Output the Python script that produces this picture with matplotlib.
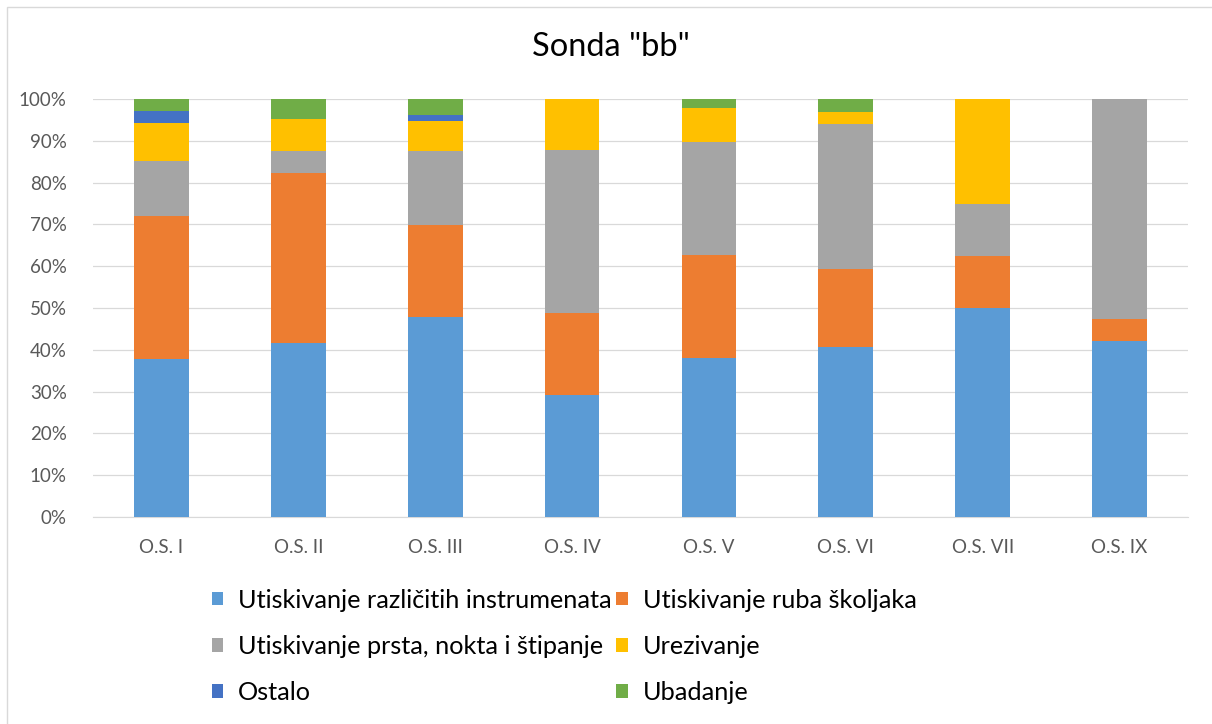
import numpy as np
import matplotlib
matplotlib.use("Agg")
import matplotlib.pyplot as plt
from matplotlib.patches import Rectangle, Patch
from matplotlib.ticker import PercentFormatter

categories = ["O.S. I", "O.S. II", "O.S. III", "O.S. IV", "O.S. V", "O.S. VI", "O.S. VII", "O.S. IX"]

# shares in % per category
instrumenti = [37.7, 41.6, 47.8, 29.3, 38.1, 40.6, 50.0, 42.1]
skoljke     = [34.4, 40.6, 22.0, 19.4, 24.5, 18.8, 12.5, 5.3]
prsti       = [13.1, 5.3, 17.7, 39.1, 27.0, 34.5, 12.5, 52.6]
urezivanje  = [9.0, 7.7, 7.2, 12.2, 8.2, 3.1, 25.0, 0.0]
ostalo      = [2.9, 0.0, 1.5, 0.0, 0.0, 0.0, 0.0, 0.0]
ubadanje    = [2.9, 4.8, 3.8, 0.0, 2.2, 3.0, 0.0, 0.0]

names = ["Utiskivanje različitih instrumenata", "Utiskivanje ruba školjaka",
         "Utiskivanje prsta, nokta i štipanje", "Urezivanje", "Ostalo", "Ubadanje"]
series = [instrumenti, skoljke, prsti, urezivanje, ostalo, ubadanje]
colors = ["#5B9BD5", "#ED7D31", "#A5A5A5", "#FFC000", "#4472C4", "#70AD47"]

plt.rcParams['font.family'] = ['Lato', 'DejaVu Sans']

fig = plt.figure(figsize=(12.12, 7.24), dpi=100)
ax = fig.add_axes([93/1212, 1 - 517/724, (1188-93)/1212, (517-99)/724])

x = np.arange(len(categories))
bottom = np.zeros(len(categories))
for vals, c in zip(series, colors):
    ax.bar(x, vals, width=0.4, bottom=bottom, color=c, zorder=3)
    bottom += np.array(vals)

ax.set_xlim(-0.5, len(categories) - 0.5)
ax.set_ylim(0, 100)
ax.set_yticks(np.arange(0, 101, 10))
ax.yaxis.set_major_formatter(PercentFormatter(decimals=0))
ax.set_xticks(x)
ax.set_xticklabels(categories)
ax.tick_params(length=0, labelsize=13.5, colors="#595959")
ax.tick_params(axis='x', pad=16)
ax.tick_params(axis='y', pad=19)
ax.grid(axis='y', color="#D9D9D9", lw=0.9, zorder=0)
for s in ["top", "right", "left"]:
    ax.spines[s].set_visible(False)
ax.spines["bottom"].set_color("#D9D9D9")

fig.text(611/1212, 1 - 47/724, 'Sonda "bb"', ha='center', va='center', fontsize=23.5, color="#000000")

# legend: Excel order row-wise -> column-wise for matplotlib
order = [0, 2, 4, 1, 3, 5]
handles = [Patch(facecolor=colors[i], label=names[i]) for i in order]
fig.legend(handles=handles, ncol=2, loc='upper left', bbox_to_anchor=(199/1212, 1 - 576/724),
           frameon=False, fontsize=18.2, handlelength=0.45, handleheight=0.45,
           handletextpad=0.6, columnspacing=0.18, labelspacing=0.92, borderpad=0)

# chart frame (only left and top edges fall inside the picture)
fig.patches.append(Rectangle((7/1212, -0.1), 1.2, (724-7)/724 + 0.1, transform=fig.transFigure,
                             fill=False, edgecolor="#D9D9D9", lw=1))

fig.savefig("out.png", dpi=100)
